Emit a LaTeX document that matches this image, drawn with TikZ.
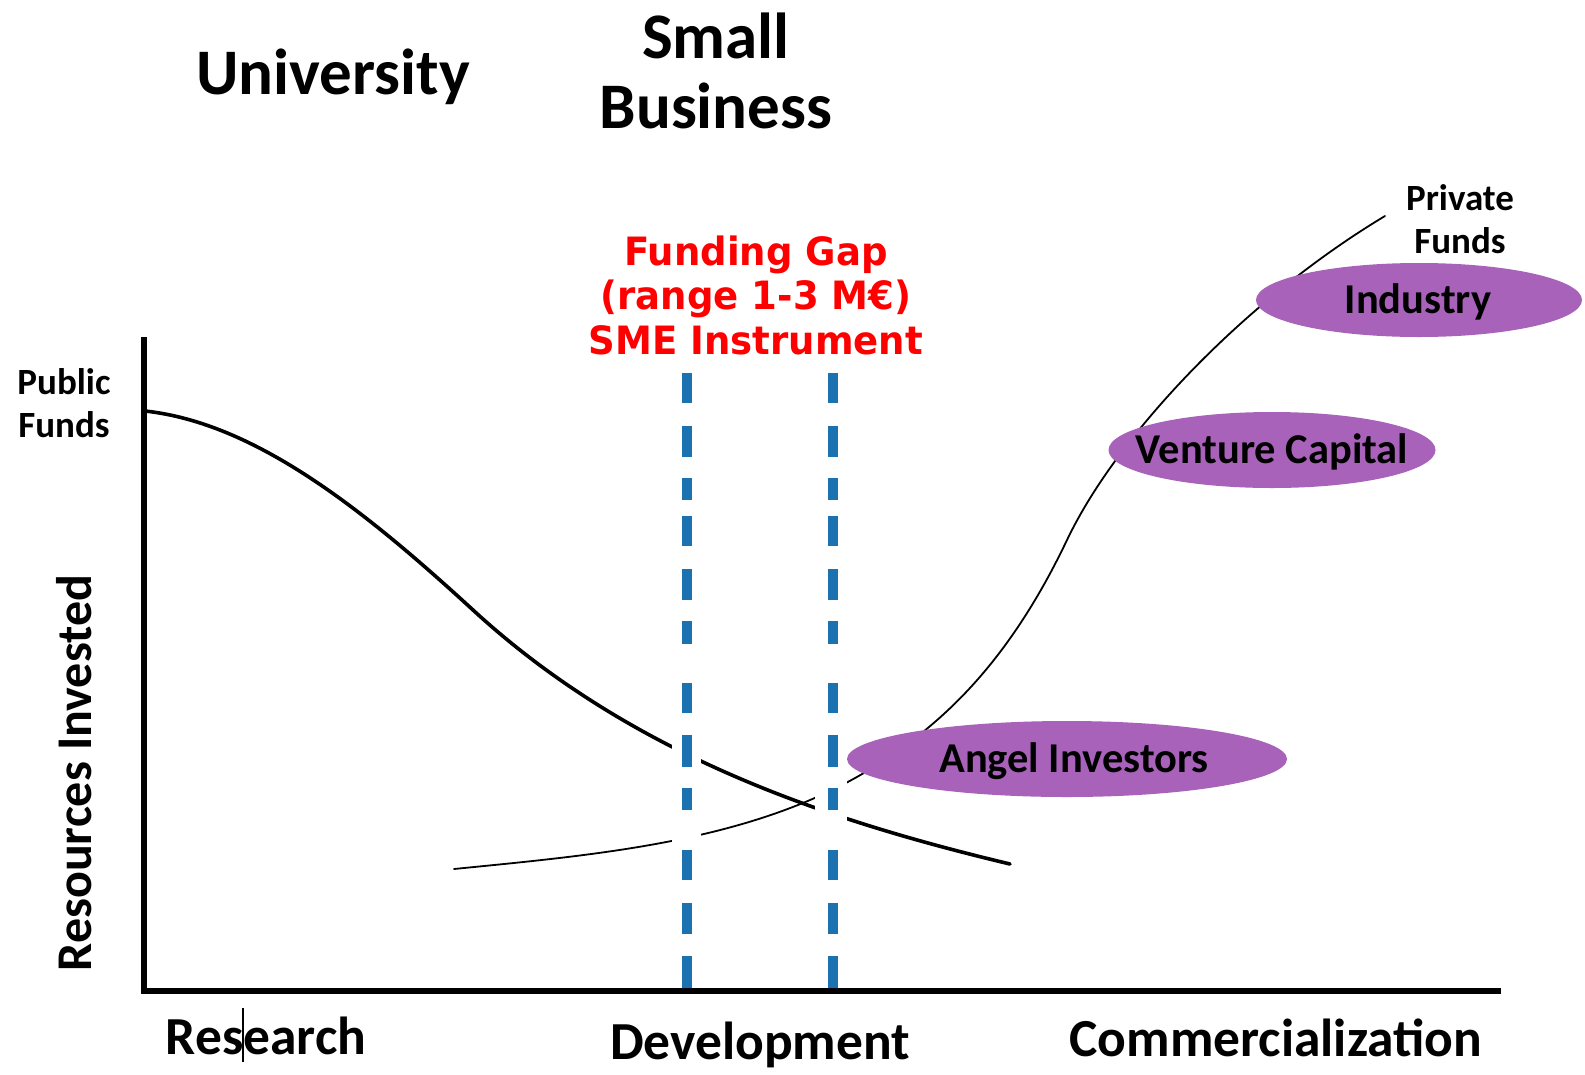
\documentclass[tikz,border=0pt]{standalone}
\usepackage{fontspec}
\setmainfont{Carlito}
\newfontfamily\redfont[FakeStretch=0.95]{DejaVu Sans}
\usetikzlibrary{shapes.geometric}
\definecolor{purp}{RGB}{168,98,186}
\definecolor{dashblue}{RGB}{28,113,176}
\definecolor{gapred}{RGB}{255,0,0}
\tikzset{
  bigtitle/.style={font=\bfseries\fontsize{65}{78}\selectfont, anchor=base, inner sep=0pt},
  fundlab/.style={font=\bfseries\fontsize{37}{44}\selectfont, anchor=base, inner sep=0pt},
  eltext/.style={font=\bfseries\fontsize{42.5}{50}\selectfont, anchor=base, inner sep=0pt},
  axislab/.style={font=\bfseries\fontsize{53.5}{62}\selectfont, anchor=base, inner sep=0pt},
  ylab/.style={font=\bfseries\fontsize{50}{60}\selectfont, anchor=base, inner sep=0pt, rotate=90},
  redlab/.style={font=\redfont\bfseries\fontsize{39}{44}\selectfont, text=gapred, anchor=base, inner sep=0pt},
  fundell/.style={ellipse, fill=purp, draw=none, inner sep=0pt},
  axisline/.style={line width=5.5pt, black},
  pubcurve/.style={line width=3.6pt, black, line cap=round},
  privcurve/.style={line width=1.8pt, black, line cap=round},
  gapdash/.style={line width=10pt, dashblue},
  eraser/.style={fill=white, draw=none}
}
\begin{document}
\begin{tikzpicture}[x=1pt,y=-1pt]
\useasboundingbox[fill=white] (0,0) rectangle (1585,1074);

% titles
\node[bigtitle] (univ) at (333,94) {University};
\node[bigtitle] (small) at (716,58) {Small};
\node[bigtitle] (business) at (716,128) {Business};

% red funding gap text
\node[redlab] (gap1) at (756,265) {Funding Gap};
\node[redlab] (gap2) at (756,309) {(range 1-3 M€)};
\node[redlab] (gap3) at (756,354) {SME Instrument};

% axes
\coordinate (yaxtop) at (144,337);
\coordinate (origin) at (144,991);
\coordinate (xaxend) at (1501,991);
\draw[axisline] (yaxtop) -- (origin) -- (xaxend);

% side labels
\node[fundlab] (pub1) at (64,394) {Public};
\node[fundlab] (pub2) at (64,437) {Funds};
\node[fundlab] (priv1) at (1460,210) {Private};
\node[fundlab] (priv2) at (1460,253) {Funds};
\node[ylab] (resinv) at (91,773) {Resources Invested};

% public funds curve
\coordinate (pubstart) at (145,411);
\coordinate (pubmid) at (473,610);
\coordinate (pubend) at (1010,864);
\draw[pubcurve] (pubstart) .. controls (255,423) and (363,509) .. (pubmid)
  .. controls (633,757) and (830,821) .. (pubend);

% private funds curve
\coordinate (privstart) at (454,869);
\coordinate (privA) at (880,763);
\coordinate (privB) at (1067,540);
\coordinate (privend) at (1385,216);
\draw[privcurve] (privstart) .. controls (604,854) and (760,841) .. (privA)
  .. controls (940,724) and (1007,666) .. (privB)
  .. controls (1117,435) and (1245,300) .. (privend);

% white gaps where the curves meet the dashed lines
\fill[eraser] (672,700) rectangle (701,885);
\fill[eraser] (815,700) rectangle (847,885);

% dashed lines
\foreach \a/\b in {373/403,426/457,478/500,516/546,569/600,621/644,683/713,735/767,788/810,850/880,903/934,956/988}{
  \draw[gapdash] (687,\a) -- (687,\b);
  \draw[gapdash] (833,\a) -- (833,\b);
}

% ellipses
\node[fundell, minimum width=326pt, minimum height=74pt] (industry) at (1419,300) {};
\node[fundell, minimum width=327pt, minimum height=76pt] (vc) at (1272,450) {};
\node[fundell, minimum width=440pt, minimum height=76pt] (angel) at (1067,759) {};
\node[eltext] (industrytxt) at (1418,313.5) {Industry};
\node[eltext] (vctxt) at (1272,463.5) {Venture Capital};
\node[eltext] (angeltxt) at (1074,772.5) {Angel Investors};

% bottom stage labels
\node[axislab] (research) at (266,1054) {Research};
\node[axislab] (develop) at (760,1059) {Development};
\node[axislab] (commerc) at (1276,1056) {Commercialization};
\coordinate (curtop) at (243,1008);
\coordinate (curbot) at (243,1062);
\draw[line width=1.3pt, black] (curtop) -- (curbot);
\end{tikzpicture}
\end{document}
